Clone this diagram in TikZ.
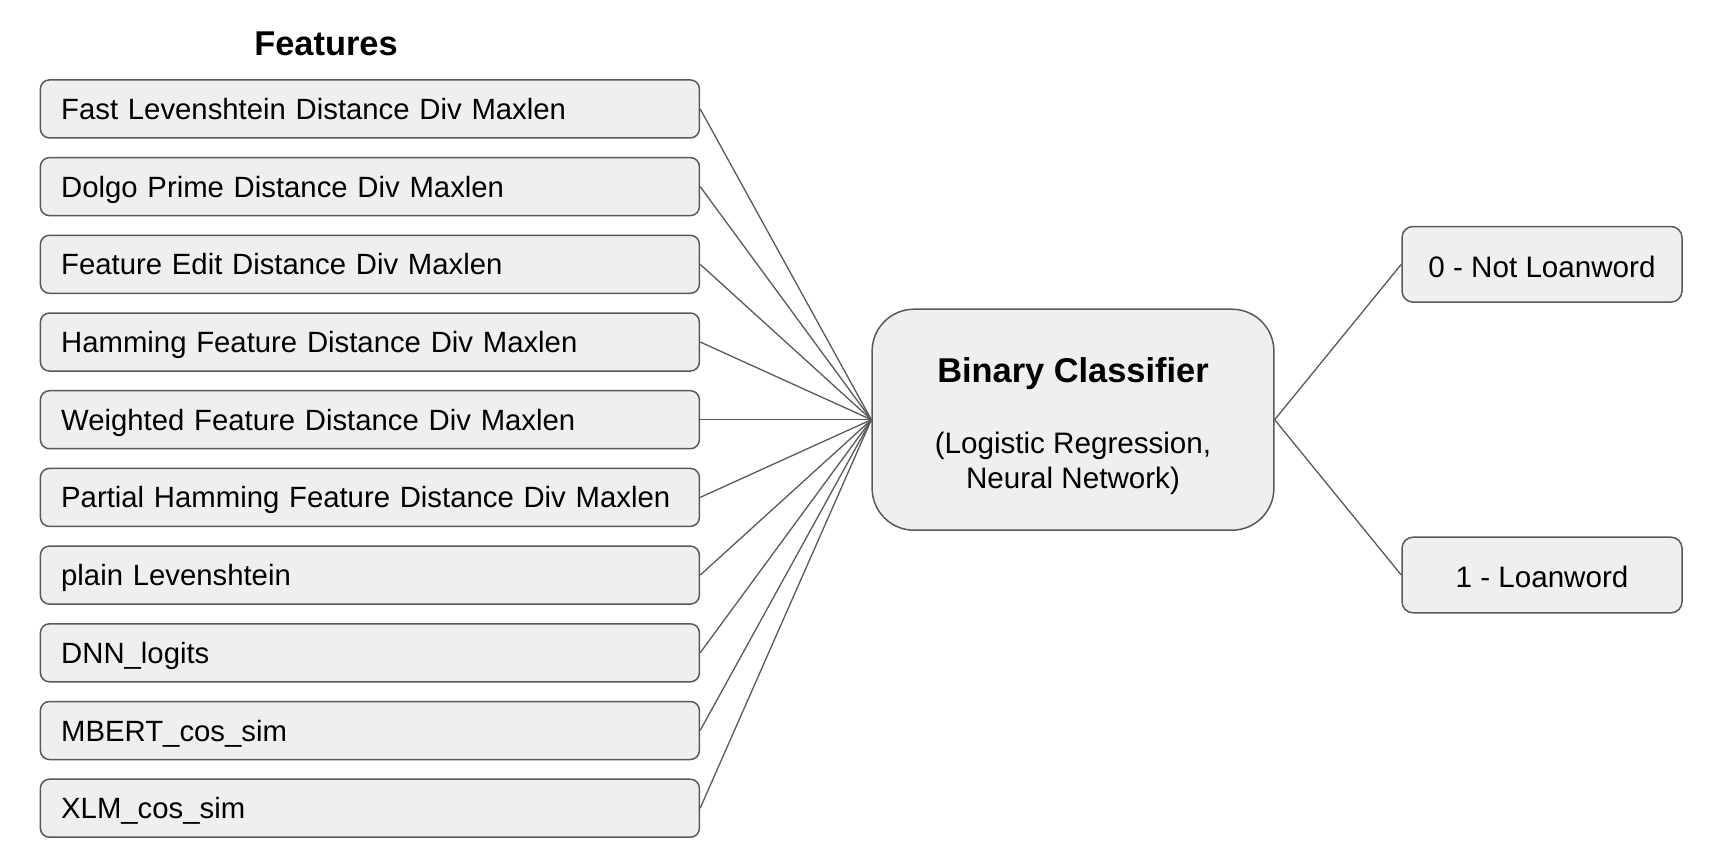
\documentclass[tikz,border=0pt]{standalone}
\usepackage{fontspec}
\setmainfont{Liberation Sans}
\usetikzlibrary{positioning}
\definecolor{boxfill}{HTML}{EFEFEF}
\definecolor{boxline}{HTML}{595959}

\begin{document}
\begin{tikzpicture}[x=0.5pt,y=-0.5pt,node distance=9.1pt,
  feature/.style={draw=boxline,fill=boxfill,line width=0.75pt,rounded corners=4.5pt,
    minimum height=29pt,text width=308.7pt,inner xsep=10.4pt,align=left,
    text height=10.5pt,text depth=0pt,font=\fontsize{14.65}{17}\selectfont},
  classifier/.style={draw=boxline,fill=boxfill,line width=0.75pt,rounded corners=21pt,
    minimum width=200.9pt,minimum height=110.5pt,align=center,
    font=\fontsize{14.8}{17.5}\selectfont},
  outcome/.style={draw=boxline,fill=boxfill,line width=0.75pt,rounded corners=5.5pt,
    minimum width=140pt,minimum height=37.8pt,align=center,
    text height=12.8pt,text depth=0pt,font=\fontsize{14.8}{17}\selectfont}]

  \useasboundingbox (0,0) rectangle (1716,866);

  \node[font=\fontsize{17.2}{20}\selectfont\bfseries] (title) at (326,44) {Features};

  \node[feature] (f1) at (369.9,108.9) {Fast Levenshtein Distance Div Maxlen};
  \node[feature] (f2) [below=of f1] {Dolgo Prime Distance Div Maxlen};
  \node[feature] (f3) [below=of f2] {Feature Edit Distance Div Maxlen};
  \node[feature] (f4) [below=of f3] {Hamming Feature Distance Div Maxlen};
  \node[feature] (f5) [below=of f4] {Weighted Feature Distance Div Maxlen};
  \node[feature] (f6) [below=of f5] {Partial Hamming Feature Distance Div Maxlen};
  \node[feature] (f7) [below=of f6] {plain Levenshtein};
  \node[feature] (f8) [below=of f7] {DNN\_logits};
  \node[feature] (f9) [below=of f8] {MBERT\_cos\_sim};
  \node[feature] (f10) [below=of f9] {XLM\_cos\_sim};

  \node[classifier] (cls) at (f5.center -| 1073,0)
    {\rule{0pt}{19pt}{\fontsize{17.2}{20}\selectfont\bfseries Binary Classifier}\\[18pt]
     (Logistic Regression,\\Neural Network)};

  \node[outcome] (no) at (1542,264.3) {0 - Not Loanword};
  \node[outcome] (yes) at (1542,575) {1 - Loanword};

  \path[draw=boxline,line width=0.65pt]
    (f1.east) edge (cls.west)
    (f2.east) edge (cls.west)
    (f3.east) edge (cls.west)
    (f4.east) edge (cls.west)
    (f5.east) edge (cls.west)
    (f6.east) edge (cls.west)
    (f7.east) edge (cls.west)
    (f8.east) edge (cls.west)
    (f9.east) edge (cls.west)
    (f10.east) edge (cls.west)
    (cls.east) edge (no.west)
	edge (yes.west);
\end{tikzpicture}
\end{document}
